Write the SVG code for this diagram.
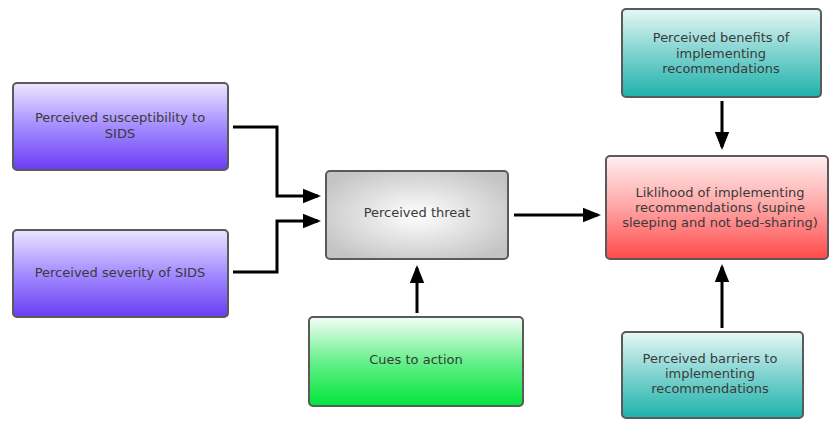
<svg xmlns="http://www.w3.org/2000/svg" width="829" height="421" viewBox="0 0 829 421">
<style>
.box{stroke:#5a5a5a;stroke-width:2}
.t{font-family:"DejaVu Sans","Liberation Sans",Arial,sans-serif;font-size:13px;fill:#3a3a3a;text-anchor:middle}
.c{fill:none;stroke:#000;stroke-width:3;marker-end:url(#ah)}
</style>
<defs>
<linearGradient id="gP" x1="0" y1="0" x2="0" y2="1"><stop offset="0" stop-color="#ece6ff"/><stop offset="0.5" stop-color="#a48cff"/><stop offset="1" stop-color="#6a3cf2"/></linearGradient>
<linearGradient id="gT" x1="0" y1="0" x2="0" y2="1"><stop offset="0" stop-color="#e6f7f6"/><stop offset="0.5" stop-color="#7fd3cf"/><stop offset="1" stop-color="#1eb2ab"/></linearGradient>
<linearGradient id="gG" x1="0" y1="0" x2="0" y2="1"><stop offset="0" stop-color="#f4fff6"/><stop offset="0.5" stop-color="#66f08a"/><stop offset="1" stop-color="#00e63c"/></linearGradient>
<linearGradient id="gR" x1="0" y1="0" x2="0" y2="1"><stop offset="0" stop-color="#fff0f0"/><stop offset="0.5" stop-color="#ffa4a4"/><stop offset="1" stop-color="#ff4a4a"/></linearGradient>
<radialGradient id="gW" cx="0.5" cy="0.5" r="0.6"><stop offset="0" stop-color="#ffffff"/><stop offset="1" stop-color="#c4c4c4"/></radialGradient>
<marker id="ah" markerWidth="6" markerHeight="6" refX="5" refY="3" orient="auto" markerUnits="strokeWidth"><path d="M0,0.6 L6,3 L0,5.4 z" fill="#000"/></marker>
</defs>
<g id="connectors">
<path class="c" d="M233,127 H277 V196 H318"/>
<path class="c" d="M233,272 H277 V221 H318"/>
<path class="c" d="M514,215 H598"/>
<path class="c" d="M417,313 V268"/>
<path class="c" d="M722,101 V147"/>
<path class="c" d="M722,328 V267"/>
</g>
<g id="susceptibility"><rect class="box" x="13" y="83" width="215" height="87" rx="4" fill="url(#gP)"/><text class="t" x="120" y="122">Perceived susceptibility to</text><text class="t" x="120" y="138">SIDS</text></g>
<g id="severity"><rect class="box" x="13" y="230" width="215" height="87" rx="4" fill="url(#gP)"/><text class="t" x="120" y="277">Perceived severity of SIDS</text></g>
<g id="threat"><rect class="box" x="326" y="171" width="182" height="88" rx="4" fill="url(#gW)"/><text class="t" x="417" y="217">Perceived threat</text></g>
<g id="cues"><rect class="box" x="309" y="317" width="214" height="89" rx="4" fill="url(#gG)"/><text class="t" x="416" y="364">Cues to action</text></g>
<g id="benefits"><rect class="box" x="622" y="9" width="199" height="88" rx="4" fill="url(#gT)"/><text class="t" x="721" y="42">Perceived benefits of</text><text class="t" x="721" y="58">implementing</text><text class="t" x="721" y="73">recommendations</text></g>
<g id="likelihood"><rect class="box" x="606" y="156" width="222" height="103" rx="4" fill="url(#gR)"/><text class="t" x="720" y="197">Liklihood of implementing</text><text class="t" x="720" y="212">recommendations (supine</text><text class="t" x="720" y="227">sleeping and not bed-sharing)</text></g>
<g id="barriers"><rect class="box" x="622" y="332" width="181" height="86" rx="4" fill="url(#gT)"/><text class="t" x="710" y="363">Perceived barriers to</text><text class="t" x="710" y="378">implementing</text><text class="t" x="710" y="393">recommendations</text></g>
</svg>
